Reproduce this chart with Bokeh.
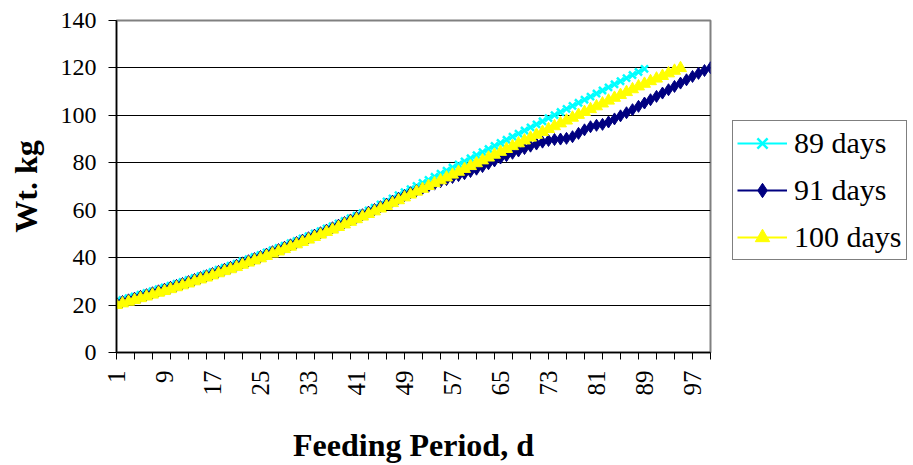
import math
from bokeh.plotting import figure
from bokeh.layouts import row
from bokeh.models import Range1d, FixedTicker, Legend, LegendItem
from bokeh.embed import file_html
from bokeh.resources import INLINE

# ---- data ----
days_89 = list(range(1, 90))
wt_89 = [21.5, 22.2, 22.9, 23.6, 24.4, 25.1, 25.9, 26.7, 27.4, 28.2,
         29.0, 29.8, 30.6, 31.5, 32.3, 33.1, 34.0, 34.9, 35.8, 36.6,
         37.5, 38.5, 39.4, 40.3, 41.2, 42.2, 43.2, 44.1, 45.1, 46.1,
         47.1, 48.1, 49.1, 50.2, 51.2, 52.3, 53.3, 54.4, 55.5, 56.6,
         57.7, 58.8, 59.9, 61.1, 62.4, 63.7, 65.0, 66.3, 67.6, 68.9,
         70.2, 71.5, 72.8, 74.1, 75.4, 76.7, 78.0, 79.3, 80.6, 81.9,
         83.2, 84.5, 85.8, 87.1, 88.4, 89.7, 91.0, 92.3, 93.6, 94.9,
         96.2, 97.5, 98.8, 100.1, 101.4, 102.7, 104.0, 105.3, 106.6, 107.9,
         109.2, 110.5, 111.8, 113.1, 114.4, 115.7, 117.0, 118.3, 119.6]

days_91 = list(range(1, 101))
wt_91 = [20.8, 21.5, 22.2, 22.9, 23.7, 24.4, 25.2, 26.0, 26.7, 27.5,
         28.3, 29.1, 29.9, 30.8, 31.6, 32.4, 33.3, 34.2, 35.1, 35.9,
         36.8, 37.8, 38.7, 39.6, 40.5, 41.5, 42.5, 43.4, 44.4, 45.4,
         46.4, 47.4, 48.4, 49.5, 50.5, 51.6, 52.6, 53.7, 54.8, 55.9,
         57.0, 58.1, 59.2, 60.3, 61.5, 62.6, 63.8, 65.0, 66.2, 67.4,
         68.3, 69.2, 70.1, 71.0, 72.0, 72.9, 73.8, 74.6, 75.4, 76.3,
         77.3, 78.4, 79.6, 80.8, 82.0, 83.0, 84.0, 85.0, 86.0, 87.0,
         87.9, 88.7, 89.4, 89.8, 90.0, 90.3, 91.0, 92.4, 93.9, 95.2,
         95.8, 96.2, 97.2, 98.5, 99.8, 101.1, 102.4, 103.8, 105.2, 106.6,
         108.0, 109.4, 110.8, 112.2, 113.6, 115.0, 116.4, 117.7, 118.9, 120.1]

days_100 = list(range(1, 96))
wt_100 = [20.0, 20.7, 21.4, 22.1, 22.9, 23.6, 24.4, 25.2, 25.9, 26.7,
          27.5, 28.3, 29.1, 30.0, 30.8, 31.6, 32.5, 33.4, 34.3, 35.1,
          36.0, 37.0, 37.9, 38.8, 39.7, 40.7, 41.7, 42.6, 43.6, 44.6,
          45.6, 46.6, 47.6, 48.7, 49.7, 50.8, 51.8, 52.9, 54.0, 55.1,
          56.2, 57.3, 58.4, 59.5, 60.7, 61.8, 63.0, 64.2, 65.4, 66.6,
          67.8, 69.0, 70.2, 71.4, 72.6, 73.8, 75.0, 76.2, 77.4, 78.6,
          79.8, 81.0, 82.2, 83.4, 84.6, 85.8, 87.0, 88.2, 89.4, 90.6,
          91.8, 93.0, 94.2, 95.4, 96.6, 97.8, 99.0, 100.2, 101.4, 102.6,
          103.8, 105.0, 106.2, 107.4, 108.6, 109.8, 111.0, 112.2, 113.3, 114.4,
          115.5, 116.6, 117.7, 118.8, 119.9]

series_names = ["89 days", "91 days", "100 days"]
series_colors = ["#00FFFF", "#000080", "#FFFF00"]
x_tick_labels = [1, 9, 17, 25, 33, 41, 49, 57, 65, 73, 81, 89, 97]
x_minor_ticks = list(range(1, 101, 3))
y_ticks = [0, 20, 40, 60, 80, 100, 120, 140]

FONT = "Liberation Serif"

p = figure(width=720, height=465, output_backend="svg", toolbar_location=None,
           x_range=Range1d(1, 100), y_range=Range1d(0, 140),
           min_border_left=116, min_border_right=10,
           min_border_top=20, min_border_bottom=108)
p.background_fill_color = "white"
p.border_fill_color = "white"
p.outline_line_color = "#808080"
p.outline_line_width = 2

# grid
p.xgrid.grid_line_color = None
p.ygrid.grid_line_color = "black"
p.ygrid.grid_line_width = 1
p.ygrid.ticker = FixedTicker(ticks=y_ticks)

# y axis
p.yaxis.ticker = FixedTicker(ticks=y_ticks)
p.yaxis.axis_line_color = "black"
p.yaxis.axis_line_width = 1.5
p.yaxis.major_tick_line_color = "black"
p.yaxis.major_tick_out = 8
p.yaxis.major_tick_in = 0
p.yaxis.minor_tick_line_color = None
p.yaxis.major_label_standoff = 12
p.yaxis.major_label_text_font = FONT
p.yaxis.major_label_text_font_size = "24px"
p.yaxis.major_label_text_color = "black"
p.yaxis.axis_label = "Wt. kg"
p.yaxis.axis_label_text_font = FONT
p.yaxis.axis_label_text_font_size = "32px"
p.yaxis.axis_label_text_font_style = "bold"
p.yaxis.axis_label_text_color = "black"
p.yaxis.axis_label_standoff = 14

# x axis
p.xaxis.ticker = FixedTicker(ticks=x_tick_labels, minor_ticks=x_minor_ticks)
p.xaxis.axis_line_color = "black"
p.xaxis.axis_line_width = 1.5
p.xaxis.major_tick_line_color = None
p.xaxis.major_tick_out = 0
p.xaxis.major_tick_in = 0
p.xaxis.minor_tick_line_color = "black"
p.xaxis.minor_tick_out = 7
p.xaxis.minor_tick_in = 0
p.xaxis.major_label_orientation = math.pi / 2
p.xaxis.major_label_standoff = 11
p.xaxis.major_label_text_font = FONT
p.xaxis.major_label_text_font_size = "25px"
p.xaxis.major_label_text_color = "black"
p.xaxis.axis_label = "Feeding Period, d"
p.xaxis.axis_label_text_font = FONT
p.xaxis.axis_label_text_font_size = "32px"
p.xaxis.axis_label_text_font_style = "bold"
p.xaxis.axis_label_text_color = "black"
p.xaxis.axis_label_standoff = 28

# series
p.line(days_89, wt_89, line_color=series_colors[0], line_width=2)
p.scatter(days_89, wt_89, marker="x", size=10, line_color=series_colors[0], line_width=2.5)
p.line(days_91, wt_91, line_color=series_colors[1], line_width=2)
p.scatter(days_91, wt_91, marker="diamond", size=12, line_color=series_colors[1],
          fill_color=series_colors[1])
p.line(days_100, wt_100, line_color=series_colors[2], line_width=2)
p.scatter(days_100, wt_100, marker="triangle", size=12, line_color=series_colors[2],
          fill_color=series_colors[2])

# legend panel (separate figure to the right of the plot)
lg = figure(width=193, height=465, output_backend="svg", toolbar_location=None,
            x_range=Range1d(0, 1), y_range=Range1d(0, 1),
            min_border_left=0, min_border_right=0, min_border_top=0, min_border_bottom=0)
lg.axis.visible = False
lg.grid.grid_line_color = None
lg.outline_line_color = None
lg.background_fill_color = "white"
lg.border_fill_color = "white"

off_x = [-5, -4]
off_y = [-5, -4]
r1 = lg.line(off_x, off_y, line_color=series_colors[0], line_width=2)
s1 = lg.scatter(off_x, off_y, marker="x", size=9, line_color=series_colors[0], line_width=2.5)
r2 = lg.line(off_x, off_y, line_color=series_colors[1], line_width=2)
s2 = lg.scatter(off_x, off_y, marker="diamond", size=12, line_color=series_colors[1],
                fill_color=series_colors[1])
r3 = lg.line(off_x, off_y, line_color=series_colors[2], line_width=2)
s3 = lg.scatter(off_x, off_y, marker="triangle", size=12, line_color=series_colors[2],
                fill_color=series_colors[2])

legend = Legend(items=[LegendItem(label=series_names[0], renderers=[r1, s1]),
                       LegendItem(label=series_names[1], renderers=[r2, s2]),
                       LegendItem(label=series_names[2], renderers=[r3, s3])],
                location=(12, 92))
legend.label_text_font = '"Liberation Serif", serif'
legend.label_text_font_size = "30px"
legend.label_text_color = "black"
legend.glyph_width = 50
legend.glyph_height = 36
legend.label_height = 36
legend.label_standoff = 7
legend.spacing = 11
legend.padding = 4
legend.margin = 0
legend.border_line_color = "black"
legend.border_line_width = 1
legend.background_fill_color = "white"
legend.background_fill_alpha = 1
lg.add_layout(legend, "center")

layout = row(p, lg)
open("out.html", "w").write(file_html(layout, INLINE))
